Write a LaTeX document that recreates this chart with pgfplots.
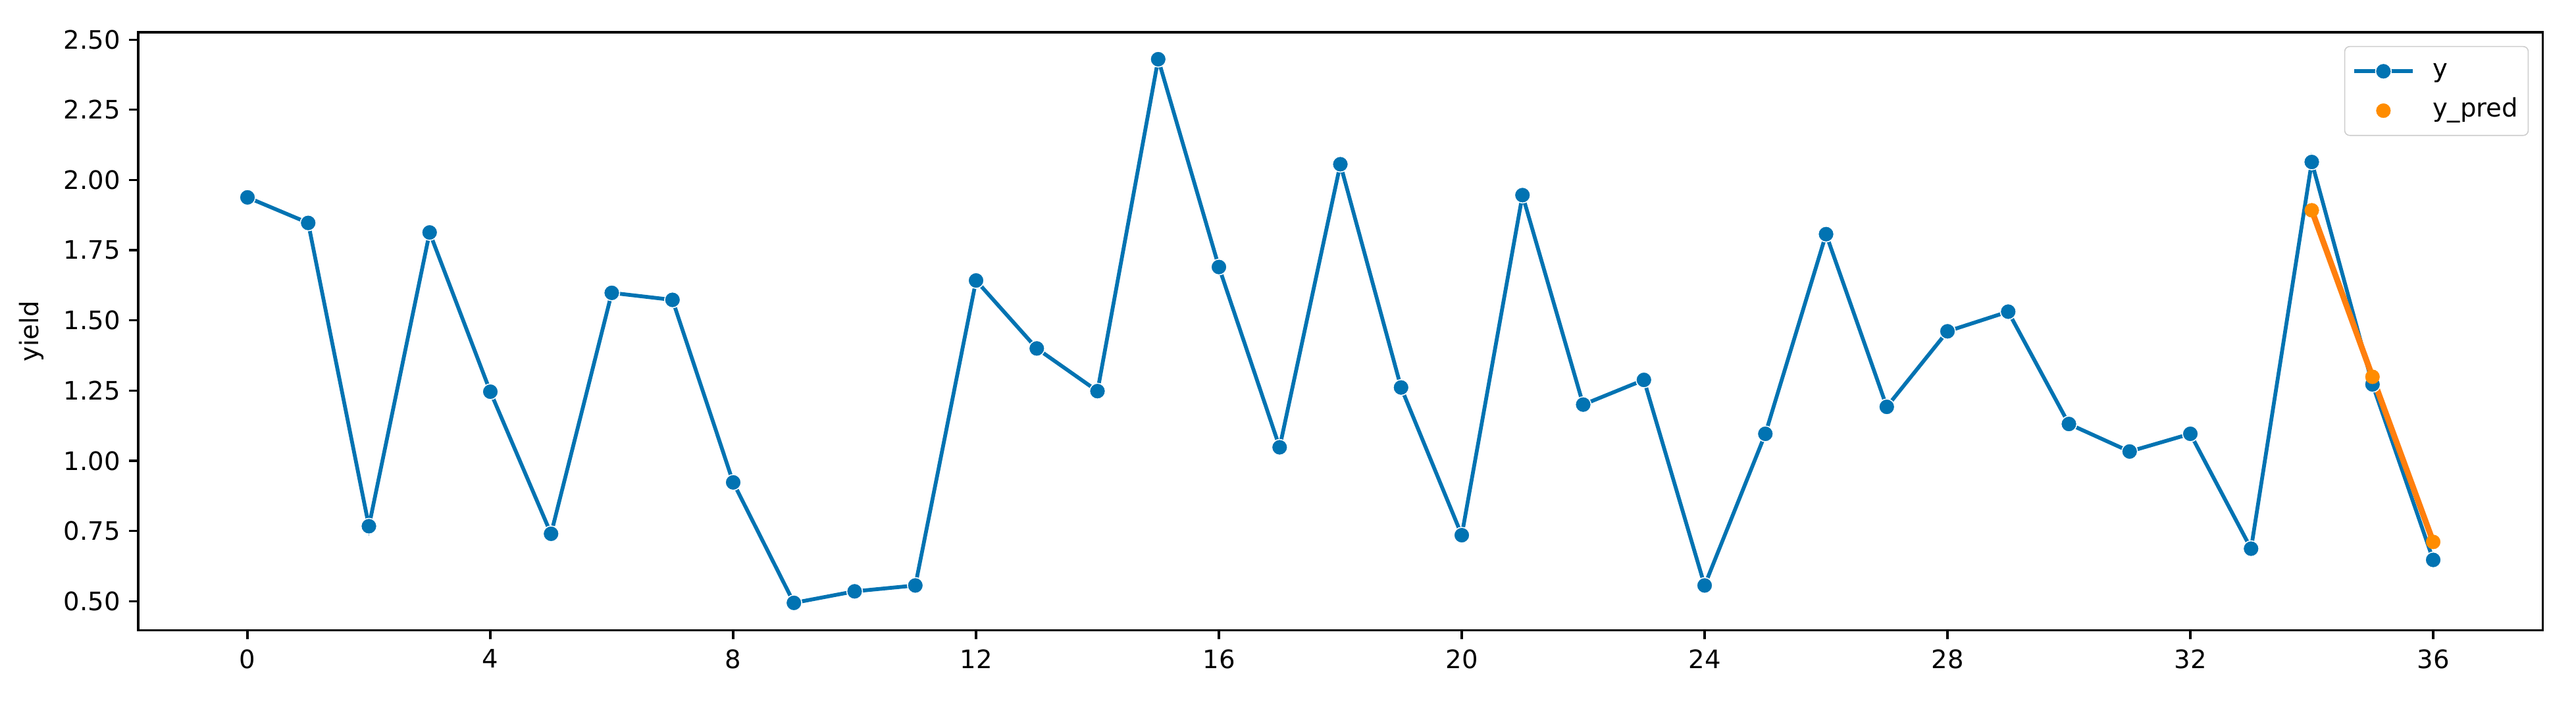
\documentclass[border=0pt]{standalone}
\usepackage{pgfplots}
\pgfplotsset{compat=1.18}
\usepackage{fontspec}
\setmainfont{DejaVu Sans}
\definecolor{cblue}{HTML}{0173B2}
\definecolor{corange}{HTML}{FF8C00}
\definecolor{corangeline}{HTML}{FF7F0E}
\pgfplotsset{
  lineimg/.style={legend image code/.code={\draw[mark repeat=2,mark phase=2,##1] plot coordinates {(0pt,0pt) (11.5pt,0pt) (23pt,0pt)}; \path (28.7pt,0pt);}},
  markimg/.style={legend image code/.code={\draw[mark repeat=2,mark phase=2,##1,only marks] plot coordinates {(0pt,0pt) (11.5pt,0pt) (23pt,0pt)}; \path (28.7pt,0pt);}},
}
\begin{document}
\begin{tikzpicture}
\begin{axis}[
  scale only axis,
  width=946.4pt, height=235.4pt,
  xmin=-1.8, xmax=37.8,
  ymin=0.396, ymax=2.526,
  xtick={0,4,...,36},
  ytick={0.5,0.75,1.0,1.25,1.5,1.75,2.0,2.25,2.5},
  yticklabel style={/pgf/number format/.cd, fixed, fixed zerofill, precision=2},
  /pgf/number format/assume math mode=true,
  tick pos=left,
  tick align=outside,
  major tick length=3.5pt,
  every tick/.style={black, line width=0.8pt},
  axis line style={line width=0.8pt},
  ticklabel style={font=\fontsize{10}{12}\selectfont},
  xticklabel style={yshift=-0.5pt},
  ylabel={yield},
  ylabel style={at={(axis description cs:-0.0444,0.5)}, anchor=center, font=\fontsize{10}{12}\selectfont},
  legend style={at={(rel axis cs:0.9943,0.977)}, anchor=north east,
    draw=black!20, rounded corners=2pt, fill=white,
    font=\fontsize{10}{12}\selectfont, inner xsep=3pt, inner ysep=3.75pt, row sep=3.5pt, column sep=0pt,
    nodes={inner xsep=1pt, inner ysep=1pt, text height=7.5pt, text depth=2.5pt}},
  legend cell align=left,
]
\addplot[cblue, line width=1.5pt, mark=*, mark size=3.1pt,
  mark options={fill=cblue, draw=white, line width=0.4pt}, lineimg]
coordinates {
(0,1.938) (1,1.847) (2,0.767) (3,1.813) (4,1.246) (5,0.740) (6,1.598) (7,1.573)
(8,0.923) (9,0.494) (10,0.535) (11,0.556) (12,1.642) (13,1.400) (14,1.248) (15,2.430)
(16,1.690) (17,1.048) (18,2.056) (19,1.261) (20,0.735) (21,1.946) (22,1.200) (23,1.288)
(24,0.556) (25,1.096) (26,1.807) (27,1.192) (28,1.461) (29,1.531) (30,1.131) (31,1.033)
(32,1.096) (33,0.687) (34,2.064) (35,1.272) (36,0.647)
};
\addlegendentry{y}
\addplot[corangeline, line width=2.3pt, mark=*, mark size=2.8pt,
  mark options={fill=corange, draw=corange, line width=0.1pt}, markimg]
coordinates {
(34,1.892) (35,1.299) (36,0.711)
};
\addlegendentry{y\_pred}
\end{axis}
\path ([shift={(-54.4pt,-29.3pt)}]current axis.south west) rectangle ([shift={(13.2pt,12.7pt)}]current axis.north east);
\end{tikzpicture}
\end{document}
